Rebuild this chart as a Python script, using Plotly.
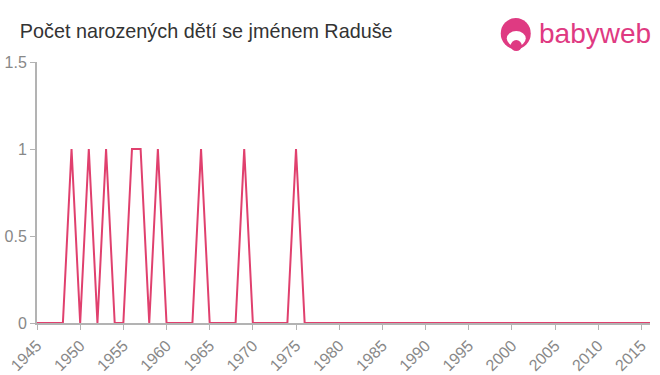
import plotly.graph_objects as go

years = list(range(1945, 2017))
ones = [1949, 1951, 1953, 1956, 1957, 1959, 1964, 1969, 1975]
counts = [1 if y in ones else 0 for y in years]

tick_years = list(range(1945, 2016, 5))
y_ticks = [0, 0.5, 1, 1.5]
y_tick_text = ["0", "0.5", "1", "1.5"]

fig = go.Figure()
fig.add_trace(go.Scatter(
    x=years, y=counts, mode="lines",
    line=dict(color="#e0406e", width=2),
    hoverinfo="x+y",
))

fig.update_layout(
    width=660, height=375,
    margin=dict(l=37, r=10, t=62, b=52, autoexpand=False),
    paper_bgcolor="white", plot_bgcolor="white",
    showlegend=False,
    font=dict(family="Liberation Sans, Arial, sans-serif", color="#777"),
    title=dict(text="Počet narozených dětí se jménem Raduše",
               x=0.03, xanchor="left", y=0.918, yanchor="middle",
               font=dict(size=19.8, color="#333")),
    xaxis=dict(range=[1945, 2016], tickvals=tick_years,
               ticktext=[str(t) for t in tick_years], automargin=False,
               tickangle=-45, showgrid=False, zeroline=False,
               showline=True, linecolor="#b3b3b3", linewidth=2,
               ticks="outside", tickcolor="#b3b3b3", ticklen=5, tickwidth=1,
               tickfont=dict(size=16, color="#888")),
    yaxis=dict(range=[0, 1.5], tickvals=y_ticks, ticktext=y_tick_text,
               automargin=False,
               showgrid=False, zeroline=False,
               showline=True, linecolor="#b3b3b3", linewidth=2,
               ticks="outside", tickcolor="#b3b3b3", ticklen=5, tickwidth=1,
               tickfont=dict(size=16, color="#888")),
)

# logo (pixel offsets relative to an anchor in paper coords)
ax, ay = 0.781, 1.107
def logo_circle(x0, x1, y0, y1, color):
    fig.add_shape(type="circle", xref="paper", yref="paper",
                  xsizemode="pixel", ysizemode="pixel",
                  xanchor=ax, yanchor=ay,
                  x0=x0, x1=x1, y0=y0, y1=y1,
                  fillcolor=color, line=dict(width=0))

logo_circle(-15, 15, -15, 16, "#df3a82")
logo_circle(-9, 10, -12, 3, "white")
logo_circle(-5, 6, -17, -6, "#df3a82")
fig.add_annotation(text="babyweb", xref="paper", yref="paper",
                   x=1.005, y=1.11, xanchor="right", yanchor="middle",
                   showarrow=False, font=dict(size=28, color="#df3a82",
                                              family="Liberation Sans, Arial, sans-serif"))

fig.write_html("out.html")
